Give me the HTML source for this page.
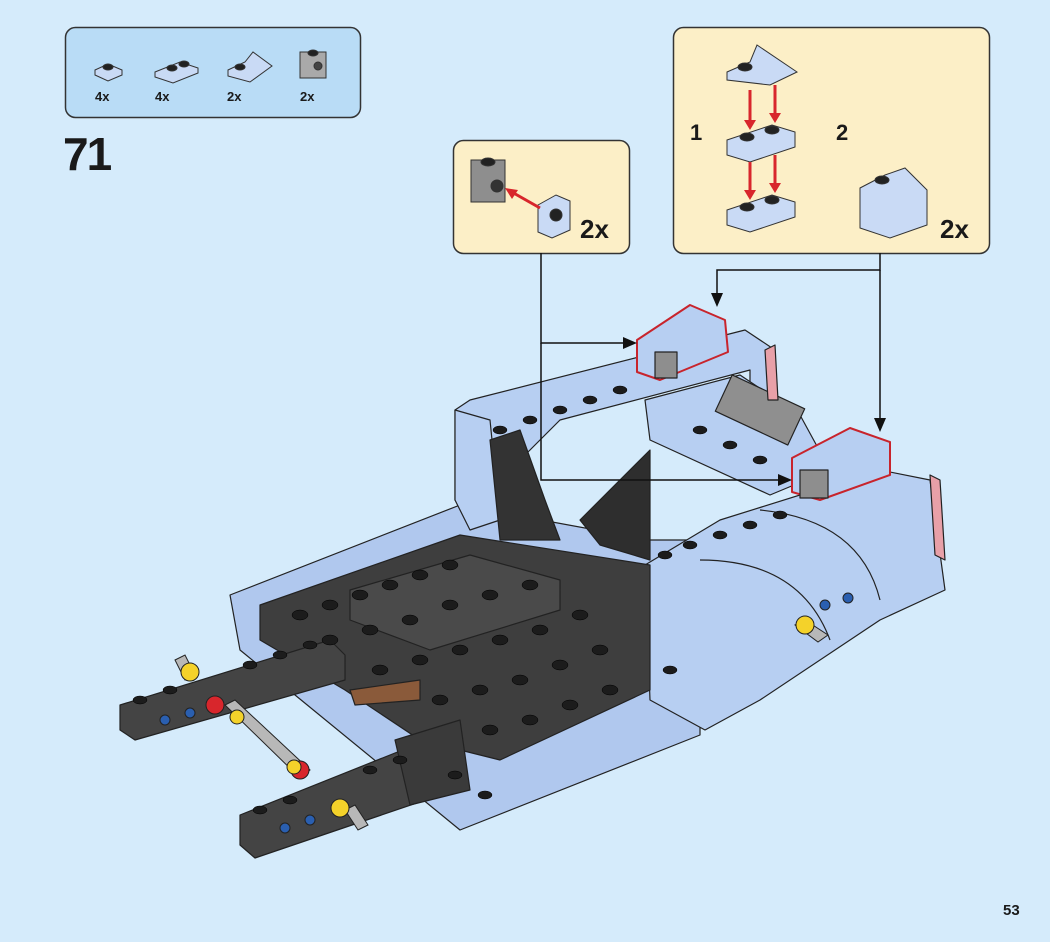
<!DOCTYPE html>
<html><head><meta charset="utf-8"><style>
html,body{margin:0;padding:0;background:#d5ebfb;}
svg{display:block}
text{font-family:"Liberation Sans",Arial,sans-serif;font-weight:bold;fill:#1a1a1a}
</style></head><body>
<svg width="1050" height="942" viewBox="0 0 1050 942" xmlns="http://www.w3.org/2000/svg">
<rect width="1050" height="942" fill="#d5ebfb"/>
<!-- parts box -->
<rect x="65.5" y="27.5" width="295" height="90" rx="10" fill="#b9dcf6" stroke="#333" stroke-width="1.5"/>
<g stroke="#333" stroke-width="1">
<polygon points="95,70 108,64 122,70 122,75 108,81 95,75" fill="#c9daf5"/>
<ellipse cx="108" cy="67" rx="5" ry="3" fill="#222"/>
<polygon points="155,72 180,62 198,68 198,73 173,83 155,77" fill="#c9daf5"/>
<ellipse cx="172" cy="68" rx="5" ry="3" fill="#222"/><ellipse cx="184" cy="64" rx="5" ry="3" fill="#222"/>
<polygon points="228,70 245,62 253,52 272,66 250,82 228,76" fill="#c9daf5"/>
<ellipse cx="240" cy="67" rx="5" ry="3" fill="#222"/>
<rect x="300" y="52" width="26" height="26" fill="#a9a9a9"/>
<ellipse cx="313" cy="53" rx="5" ry="3" fill="#222"/><circle cx="318" cy="66" r="4" fill="#444"/>
</g>
<text x="95" y="101" font-size="13">4x</text><text x="155" y="101" font-size="13">4x</text>
<text x="227" y="101" font-size="13">2x</text><text x="300" y="101" font-size="13">2x</text>
<text x="63" y="170" font-size="46" letter-spacing="-2">71</text>
<!-- callout 1 -->
<rect x="453.5" y="140.5" width="176" height="113" rx="10" fill="#fcefc7" stroke="#333" stroke-width="1.5"/>
<g stroke="#333" stroke-width="1">
<rect x="471" y="160" width="34" height="42" fill="#8e8e8e"/>
<ellipse cx="488" cy="162" rx="7" ry="4" fill="#222"/><circle cx="497" cy="186" r="6" fill="#333"/>
<polygon points="538,205 556,195 570,201 570,230 552,238 538,232" fill="#c9daf5"/>
<circle cx="556" cy="215" r="6" fill="#222"/>
</g>
<line x1="540" y1="208" x2="510" y2="191" stroke="#d8262c" stroke-width="3"/>
<polygon points="505,188 518,190 512,199" fill="#d8262c"/>
<text x="580" y="238" font-size="26">2x</text>
<!-- callout 2 -->
<rect x="673.5" y="27.5" width="316" height="226" rx="10" fill="#fcefc7" stroke="#333" stroke-width="1.5"/>
<g stroke="#333" stroke-width="1">
<polygon points="727,72 750,62 757,45 797,72 770,85 727,80" fill="#c9daf5"/>
<ellipse cx="745" cy="67" rx="7" ry="4" fill="#222"/>
<polygon points="727,140 772,125 795,132 795,147 750,162 727,155" fill="#c9daf5"/>
<ellipse cx="747" cy="137" rx="7" ry="4" fill="#222"/><ellipse cx="772" cy="130" rx="7" ry="4" fill="#222"/>
<polygon points="727,210 772,195 795,202 795,217 750,232 727,225" fill="#c9daf5"/>
<ellipse cx="747" cy="207" rx="7" ry="4" fill="#222"/><ellipse cx="772" cy="200" rx="7" ry="4" fill="#222"/>
<polygon points="860,188 885,175 905,168 927,190 927,225 890,238 860,228" fill="#c9daf5"/>
<ellipse cx="882" cy="180" rx="7" ry="4" fill="#222"/>
</g>
<g stroke="#d8262c" stroke-width="3" fill="#d8262c">
<line x1="750" y1="90" x2="750" y2="125"/><line x1="775" y1="85" x2="775" y2="118"/>
<line x1="750" y1="162" x2="750" y2="195"/><line x1="775" y1="155" x2="775" y2="188"/>
<polygon points="744,120 756,120 750,130" stroke="none"/><polygon points="769,113 781,113 775,123" stroke="none"/>
<polygon points="744,190 756,190 750,200" stroke="none"/><polygon points="769,183 781,183 775,193" stroke="none"/>
</g>
<text x="690" y="140" font-size="22">1</text><text x="836" y="140" font-size="22">2</text>
<text x="940" y="238" font-size="26">2x</text>
<!-- model -->
<g stroke="#222" stroke-width="1.2" stroke-linejoin="round">
<!-- lower body -->
<polygon points="230,595 460,505 650,540 700,540 700,735 460,830 240,650" fill="#b0c8ee"/>
<!-- rear frame band with window -->
<path d="M455,410 L470,400 L745,330 L775,350 L775,420 L750,420 L750,370 L560,420 L510,470 L470,520 L455,500 Z" fill="#b7cff2"/>
<!-- left pillar -->
<polygon points="455,410 490,420 500,520 470,530 455,500" fill="#b7cff2"/>
<!-- window dark pieces -->
<polygon points="490,440 520,430 545,500 560,540 500,540" fill="#333"/>
<polygon points="580,520 650,450 650,560 600,545" fill="#2e2e2e"/>
<!-- engine area -->
<polygon points="645,400 740,375 800,415 830,470 770,495 650,440" fill="#b7cff2"/>
<rect x="720" y="390" width="80" height="40" fill="#8f8f8f" transform="rotate(25 760 410)"/>
<!-- right fender/body -->
<polygon points="645,565 720,520 880,470 930,480 945,590 880,620 760,700 705,730 650,700" fill="#b7cff2"/>
<path d="M760,510 Q860,520 880,600" fill="none"/>
<path d="M700,560 Q800,560 830,640" fill="none"/>
<!-- dark floor -->
<polygon points="260,605 460,535 650,565 650,690 500,760 420,740 345,690 260,640" fill="#3e3e3e"/>
<polygon points="350,590 470,555 560,580 560,610 430,650 350,620" fill="#4a4a4a"/>
<!-- rails -->
<polygon points="120,705 330,640 345,655 345,680 135,740 120,730" fill="#444"/>
<polygon points="240,815 440,735 455,760 455,790 255,858 240,845" fill="#444"/>
<polygon points="395,740 460,720 470,790 410,805" fill="#3a3a3a"/>
<polygon points="350,690 420,680 420,700 355,705" fill="#8a5a3a"/>
<!-- highlighted parts -->
<polygon points="637,340 690,305 725,320 728,352 660,380 637,372" fill="#b7cff2" stroke="#c8242c" stroke-width="2"/>
<polygon points="792,458 850,428 890,442 890,475 820,500 792,492" fill="#b7cff2" stroke="#c8242c" stroke-width="2"/>
<rect x="655" y="352" width="22" height="26" fill="#8e8e8e"/>
<rect x="800" y="470" width="28" height="28" fill="#8e8e8e"/>
<!-- red tail lights -->
<polygon points="765,350 775,345 778,400 768,400" fill="#e8a0a8"/>
<polygon points="930,475 940,480 945,560 935,555" fill="#e8a0a8"/>
</g>
<!-- studs -->
<g fill="#1c1c1c" stroke="#000" stroke-width="0.5">
<ellipse cx="300" cy="615" rx="8" ry="5"/><ellipse cx="330" cy="605" rx="8" ry="5"/><ellipse cx="360" cy="595" rx="8" ry="5"/><ellipse cx="390" cy="585" rx="8" ry="5"/><ellipse cx="420" cy="575" rx="8" ry="5"/><ellipse cx="450" cy="565" rx="8" ry="5"/>
<ellipse cx="330" cy="640" rx="8" ry="5"/><ellipse cx="370" cy="630" rx="8" ry="5"/><ellipse cx="410" cy="620" rx="8" ry="5"/><ellipse cx="450" cy="605" rx="8" ry="5"/><ellipse cx="490" cy="595" rx="8" ry="5"/><ellipse cx="530" cy="585" rx="8" ry="5"/>
<ellipse cx="380" cy="670" rx="8" ry="5"/><ellipse cx="420" cy="660" rx="8" ry="5"/><ellipse cx="460" cy="650" rx="8" ry="5"/><ellipse cx="500" cy="640" rx="8" ry="5"/><ellipse cx="540" cy="630" rx="8" ry="5"/><ellipse cx="580" cy="615" rx="8" ry="5"/>
<ellipse cx="440" cy="700" rx="8" ry="5"/><ellipse cx="480" cy="690" rx="8" ry="5"/><ellipse cx="520" cy="680" rx="8" ry="5"/><ellipse cx="560" cy="665" rx="8" ry="5"/><ellipse cx="600" cy="650" rx="8" ry="5"/>
<ellipse cx="490" cy="730" rx="8" ry="5"/><ellipse cx="530" cy="720" rx="8" ry="5"/><ellipse cx="570" cy="705" rx="8" ry="5"/><ellipse cx="610" cy="690" rx="8" ry="5"/>
<ellipse cx="140" cy="700" rx="7" ry="4"/><ellipse cx="170" cy="690" rx="7" ry="4"/><ellipse cx="250" cy="665" rx="7" ry="4"/><ellipse cx="280" cy="655" rx="7" ry="4"/><ellipse cx="310" cy="645" rx="7" ry="4"/>
<ellipse cx="260" cy="810" rx="7" ry="4"/><ellipse cx="290" cy="800" rx="7" ry="4"/><ellipse cx="370" cy="770" rx="7" ry="4"/><ellipse cx="400" cy="760" rx="7" ry="4"/>
<ellipse cx="500" cy="430" rx="7" ry="4"/><ellipse cx="530" cy="420" rx="7" ry="4"/><ellipse cx="560" cy="410" rx="7" ry="4"/><ellipse cx="590" cy="400" rx="7" ry="4"/><ellipse cx="620" cy="390" rx="7" ry="4"/>
<ellipse cx="665" cy="555" rx="7" ry="4"/><ellipse cx="690" cy="545" rx="7" ry="4"/><ellipse cx="720" cy="535" rx="7" ry="4"/><ellipse cx="750" cy="525" rx="7" ry="4"/><ellipse cx="780" cy="515" rx="7" ry="4"/>
<ellipse cx="700" cy="430" rx="7" ry="4"/><ellipse cx="730" cy="445" rx="7" ry="4"/><ellipse cx="760" cy="460" rx="7" ry="4"/>
<ellipse cx="670" cy="670" rx="7" ry="4"/><ellipse cx="455" cy="775" rx="7" ry="4"/><ellipse cx="485" cy="795" rx="7" ry="4"/>
</g>
<!-- axles -->
<g stroke="#222" stroke-width="1">
<polygon points="225,705 235,700 310,770 300,778" fill="#b8b8b8"/>
<polygon points="175,660 185,655 195,675 185,680" fill="#b8b8b8"/>
<polygon points="345,810 355,805 368,825 358,830" fill="#b8b8b8"/>
<polygon points="795,625 805,620 828,635 818,642" fill="#b8b8b8"/>
<circle cx="215" cy="705" r="9" fill="#d8262c"/><circle cx="300" cy="770" r="9" fill="#d8262c"/>
<circle cx="190" cy="672" r="9" fill="#f4d22a"/><circle cx="340" cy="808" r="9" fill="#f4d22a"/><circle cx="805" cy="625" r="9" fill="#f4d22a"/>
<circle cx="237" cy="717" r="7" fill="#f4d22a"/><circle cx="294" cy="767" r="7" fill="#f4d22a"/>
<circle cx="190" cy="713" r="5" fill="#2a5fb0"/><circle cx="165" cy="720" r="5" fill="#2a5fb0"/>
<circle cx="285" cy="828" r="5" fill="#2a5fb0"/><circle cx="310" cy="820" r="5" fill="#2a5fb0"/>
<circle cx="825" cy="605" r="5" fill="#2a5fb0"/><circle cx="848" cy="598" r="5" fill="#2a5fb0"/>
</g>
<!-- connector lines -->
<g stroke="#111" stroke-width="1.5" fill="none">
<polyline points="541,253 541,343 625,343"/>
<polyline points="541,343 541,480 780,480"/>
<polyline points="880,253 880,270 717,270 717,295"/>
<polyline points="880,270 880,420"/>
</g>
<g fill="#111">
<polygon points="637,343 623,337 623,349"/>
<polygon points="792,480 778,474 778,486"/>
<polygon points="717,307 711,293 723,293"/>
<polygon points="880,432 874,418 886,418"/>
</g>
<text x="1003" y="915" font-size="15">53</text>
</svg>
</body></html>
